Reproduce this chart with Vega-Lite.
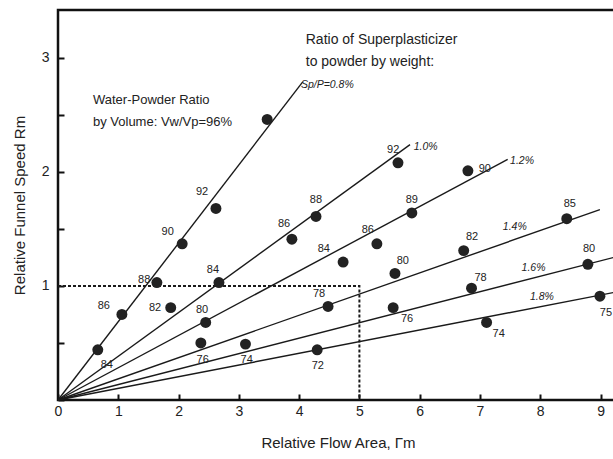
{
  "$schema": "https://vega.github.io/schema/vega-lite/v6.json",
  "width": 560,
  "height": 390,
  "autosize": {"type": "none"},
  "padding": {"left": 58, "top": 10, "right": 0, "bottom": 59},
  "background": "#ffffff",
  "config": {
    "view": {"stroke": "#111", "strokeWidth": 2.5},
    "font": "Liberation Sans",
    "axis": {"grid": false, "domain": false, "labelFont": "Liberation Sans", "titleFont": "Liberation Sans", "labelColor": "#222", "titleColor": "#222", "titleFontWeight": "normal", "tickColor": "#111", "tickWidth": 2}
  },
  "datasets": {
    "lines": [
      {"series": "0.8%", "area": 0, "speed": 0}, {"series": "0.8%", "area": 4.06, "speed": 2.79},
      {"series": "1.0%", "area": 0, "speed": 0}, {"series": "1.0%", "area": 5.84, "speed": 2.24},
      {"series": "1.2%", "area": 0, "speed": 0}, {"series": "1.2%", "area": 7.46, "speed": 2.11},
      {"series": "1.4%", "area": 0, "speed": 0}, {"series": "1.4%", "area": 8.99, "speed": 1.67},
      {"series": "1.6%", "area": 0, "speed": 0}, {"series": "1.6%", "area": 9.29, "speed": 1.26},
      {"series": "1.8%", "area": 0, "speed": 0}, {"series": "1.8%", "area": 9.29, "speed": 0.95}
    ],
    "guide": [
      {"area": 0, "speed": 1, "o": 1}, {"area": 5, "speed": 1, "o": 2}, {"area": 5, "speed": 0, "o": 3}
    ],
    "points": [
      {"series": "0.8%", "area": 0.66, "speed": 0.44, "vw": 84},
      {"series": "0.8%", "area": 1.06, "speed": 0.75, "vw": 86},
      {"series": "0.8%", "area": 1.64, "speed": 1.03, "vw": 88},
      {"series": "0.8%", "area": 2.06, "speed": 1.37, "vw": 90},
      {"series": "0.8%", "area": 2.62, "speed": 1.68, "vw": 92},
      {"series": "0.8%", "area": 3.47, "speed": 2.46, "vw": 96},
      {"series": "1.0%", "area": 1.87, "speed": 0.81, "vw": 82},
      {"series": "1.0%", "area": 2.67, "speed": 1.03, "vw": 84},
      {"series": "1.0%", "area": 3.88, "speed": 1.41, "vw": 86},
      {"series": "1.0%", "area": 4.28, "speed": 1.61, "vw": 88},
      {"series": "1.0%", "area": 5.64, "speed": 2.08, "vw": 92},
      {"series": "1.2%", "area": 2.45, "speed": 0.68, "vw": 80},
      {"series": "1.2%", "area": 4.73, "speed": 1.21, "vw": 84},
      {"series": "1.2%", "area": 5.29, "speed": 1.37, "vw": 86},
      {"series": "1.2%", "area": 5.87, "speed": 1.64, "vw": 89},
      {"series": "1.2%", "area": 6.80, "speed": 2.01, "vw": 90},
      {"series": "1.4%", "area": 4.48, "speed": 0.82, "vw": 78},
      {"series": "1.4%", "area": 5.59, "speed": 1.11, "vw": 80},
      {"series": "1.4%", "area": 6.73, "speed": 1.31, "vw": 82},
      {"series": "1.4%", "area": 8.44, "speed": 1.59, "vw": 85},
      {"series": "1.6%", "area": 2.37, "speed": 0.50, "vw": 76},
      {"series": "1.6%", "area": 5.56, "speed": 0.81, "vw": 76},
      {"series": "1.6%", "area": 6.86, "speed": 0.98, "vw": 78},
      {"series": "1.6%", "area": 8.79, "speed": 1.19, "vw": 80},
      {"series": "1.8%", "area": 3.11, "speed": 0.49, "vw": 74},
      {"series": "1.8%", "area": 4.30, "speed": 0.44, "vw": 72},
      {"series": "1.8%", "area": 7.11, "speed": 0.68, "vw": 74},
      {"series": "1.8%", "area": 8.99, "speed": 0.91, "vw": 75}
    ],
    "pointLabels": [
      {"text": "84", "area": 0.81, "speed": 0.31},
      {"text": "86", "area": 0.76, "speed": 0.82},
      {"text": "88", "area": 1.43, "speed": 1.05},
      {"text": "90", "area": 1.82, "speed": 1.47},
      {"text": "92", "area": 2.39, "speed": 1.82},
      {"text": "82", "area": 1.61, "speed": 0.81},
      {"text": "84", "area": 2.57, "speed": 1.14},
      {"text": "86", "area": 3.75, "speed": 1.54},
      {"text": "88", "area": 4.28, "speed": 1.75},
      {"text": "92", "area": 5.56, "speed": 2.19},
      {"text": "80", "area": 2.39, "speed": 0.79},
      {"text": "84", "area": 4.41, "speed": 1.32},
      {"text": "86", "area": 5.14, "speed": 1.49},
      {"text": "89", "area": 5.87, "speed": 1.75},
      {"text": "90", "area": 7.08, "speed": 2.03},
      {"text": "78", "area": 4.33, "speed": 0.93},
      {"text": "80", "area": 5.72, "speed": 1.22},
      {"text": "82", "area": 6.87, "speed": 1.43},
      {"text": "85", "area": 8.49, "speed": 1.72},
      {"text": "76", "area": 2.40, "speed": 0.35},
      {"text": "76", "area": 5.79, "speed": 0.71},
      {"text": "78", "area": 7.01, "speed": 1.07},
      {"text": "80", "area": 8.81, "speed": 1.32},
      {"text": "74", "area": 3.13, "speed": 0.35},
      {"text": "72", "area": 4.31, "speed": 0.30},
      {"text": "74", "area": 7.31, "speed": 0.58},
      {"text": "75", "area": 9.09, "speed": 0.76}
    ],
    "seriesLabels": [
      {"text": "Sp/P=0.8%", "area": 4.03, "speed": 2.76},
      {"text": "1.0%", "area": 5.90, "speed": 2.22},
      {"text": "1.2%", "area": 7.50, "speed": 2.10},
      {"text": "1.4%", "area": 7.38, "speed": 1.52},
      {"text": "1.6%", "area": 7.69, "speed": 1.16},
      {"text": "1.8%", "area": 7.83, "speed": 0.90}
    ],
    "notesRight": [
      {"text": "Ratio of Superplasticizer", "area": 4.11, "speed": 3.16},
      {"text": "to powder by weight:", "area": 4.11, "speed": 2.96}
    ],
    "notesLeft": [
      {"text": "Water-Powder Ratio", "area": 0.58, "speed": 2.63},
      {"text": "by Volume: Vw/Vp=96%", "area": 0.58, "speed": 2.44}
    ]
  },
  "encoding": {
    "x": {"field": "area", "type": "quantitative", "scale": {"domain": [0, 9.29], "nice": false, "zero": true},
      "axis": {"title": "Relative Flow Area,  Γm", "values": [0, 1, 2, 3, 4, 5, 6, 7, 8, 9], "offset": -6, "tickSize": 6, "labelPadding": 4, "labelFontSize": 14, "titleFontSize": 15, "titlePadding": 17, "labelFlush": false, "format": "d"}},
    "y": {"field": "speed", "type": "quantitative", "scale": {"domain": [0, 3.42], "nice": false},
      "axis": {"title": "Relative Funnel Speed Rm", "values": [0, 0.5, 1, 1.5, 2, 2.5, 3], "labelExpr": "datum.value % 1 === 0 && datum.value > 0 ? format(datum.value, 'd') : ''", "offset": -6, "tickSize": 6, "labelPadding": 9, "labelFontSize": 14, "titleFontSize": 15, "titlePadding": 14, "labelFlush": false}}
  },
  "layer": [
    {"data": {"name": "lines"}, "mark": {"type": "line", "color": "#1a1a1a", "strokeWidth": 1.4}, "encoding": {"detail": {"field": "series"}}},
    {"data": {"name": "guide"}, "mark": {"type": "line", "color": "#1a1a1a", "strokeWidth": 2, "strokeDash": [3, 2]}, "encoding": {"order": {"field": "o"}}},
    {"data": {"name": "points"}, "mark": {"type": "circle", "color": "#222", "opacity": 1, "size": 120}},
    {"data": {"name": "pointLabels"}, "mark": {"type": "text", "fontSize": 11, "color": "#222"}, "encoding": {"text": {"field": "text"}}},
    {"data": {"name": "seriesLabels"}, "mark": {"type": "text", "fontSize": 10.5, "fontStyle": "italic", "align": "left", "color": "#222"}, "encoding": {"text": {"field": "text"}}},
    {"data": {"name": "notesRight"}, "mark": {"type": "text", "fontSize": 14, "align": "left", "color": "#222"}, "encoding": {"text": {"field": "text"}}},
    {"data": {"name": "notesLeft"}, "mark": {"type": "text", "fontSize": 13, "align": "left", "color": "#222"}, "encoding": {"text": {"field": "text"}}}
  ]
}
